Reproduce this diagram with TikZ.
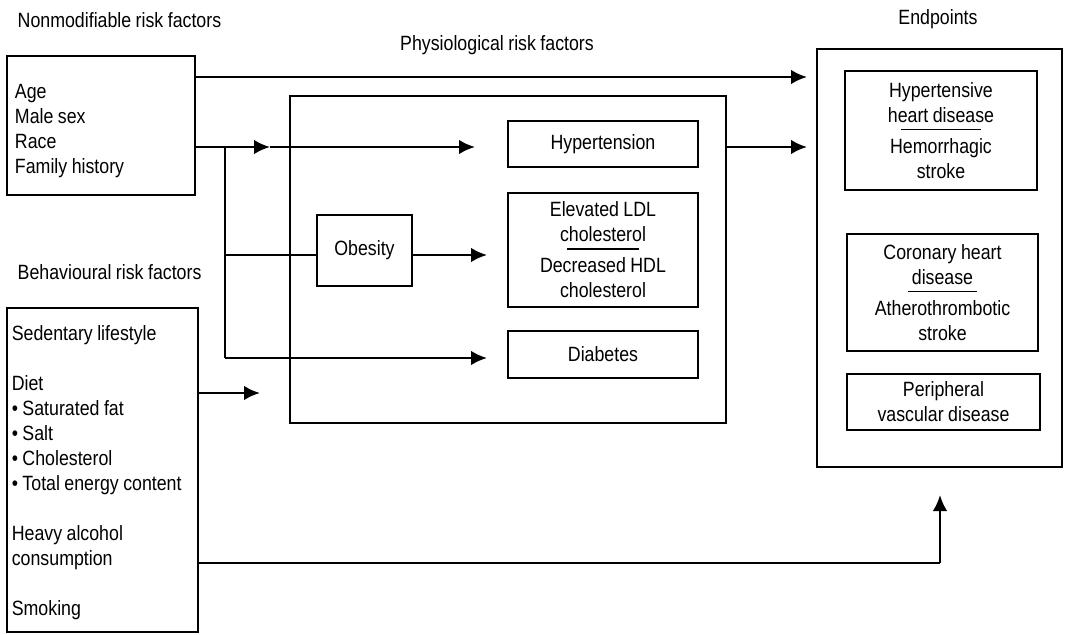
\documentclass[tikz,border=0pt]{standalone}
\usepackage{fontspec}
\setmainfont[FakeStretch=0.86,WordSpace=0.9]{Liberation Sans}
\usetikzlibrary{arrows.meta}
\newcommand{\sepline}[2]{\ooalign{#2\cr\hidewidth\rule[-6pt]{#1}{1.4pt}\hidewidth\cr}}
\hyphenpenalty=10000

\begin{document}
\begin{tikzpicture}[x=0.75pt,y=-0.75pt,
  font=\fontsize{15.5}{18.75}\selectfont,
  box/.style={draw,line width=1.9pt,align=center,inner sep=0pt},
  ln/.style={line width=1.9pt},
  arr/.style={line width=1.9pt,-{Latex[length=12pt,width=11pt]}}]
\useasboundingbox (0,0) rectangle (1065,635);

\node[anchor=base west] (tnm) at (13,28) {Nonmodifiable risk factors};
\node[anchor=base] (tph) at (497,51) {Physiological risk factors};
\node[anchor=base west] (tbh) at (13,279) {Behavioural risk factors};
\node[anchor=base] (tep) at (938,25) {Endpoints};

\node[box,align=flush left,text width=129pt,inner xsep=6pt,minimum height=104.25pt] (nm) at (101,125.5)
  {\rule{0pt}{19pt}Age\\Male sex\\Race\\Family history};
\node[box,align=flush left,text width=136pt,inner xsep=3.5pt,minimum height=243pt] (bh) at (102.5,470)
  {\rule{0pt}{15pt}Sedentary lifestyle\\[18.75pt]Diet\\• Saturated fat\\• Salt\\• Cholesterol\\• Total energy content\\[18.75pt]Heavy alcohol\\consumption\\[18.75pt]Smoking};

\node[box,minimum width=327pt,minimum height=245.25pt] (ph) at (508,259.5) {};
\node[box,minimum width=142.5pt,minimum height=34.5pt] (hyp) at (603,144) {Hypertension};
\node[box,minimum width=142.5pt,minimum height=85.5pt] (chol) at (603,250)
  {Elevated LDL\\\sepline{54pt}{cholesterol}\\[4.5pt]Decreased HDL\\cholesterol};
\node[box,minimum width=142.5pt,minimum height=35.25pt] (dia) at (603,354.5) {Diabetes};
\node[box,minimum width=71.25pt,minimum height=53.25pt] (ob) at (364.5,250.5) {Obesity};

\node[box,minimum width=183.75pt,minimum height=313.5pt] (ep) at (939.5,258) {};
\node[box,minimum width=144pt,minimum height=89.25pt] (ep1) at (941,130.5)
  {Hypertensive\\\sepline{60pt}{heart disease}\\[4.5pt]Hemorrhagic\\stroke};
\node[box,minimum width=143.25pt,minimum height=87.75pt] (ep2) at (942.5,292.5)
  {Coronary heart\\\sepline{52pt}{disease}\\[4.5pt]Atherothrombotic\\stroke};
\node[box,minimum width=144.75pt,minimum height=42pt] (ep3) at (943.5,402)
  {Peripheral\\vascular disease};

\coordinate (a0) at (807,77);
\coordinate (j1) at (225,147);
\coordinate (a1) at (270,147);
\coordinate (a2) at (475,147);
\coordinate (j2) at (225,255);
\coordinate (a3) at (487,255);
\coordinate (j3) at (225,358);
\coordinate (a4) at (487,358);
\coordinate (a5) at (807,147);
\coordinate (a6) at (260,393);
\coordinate (j4) at (940,563);
\coordinate (a7) at (940,495);

\draw[arr] (nm.east |- a0) -- (a0);
\draw[ln] (nm.east |- j1) -- (j1);
\draw[arr] (j1) -- (a1);
\draw[arr] (a1) -- (a2);
\draw[ln] (j1) -- (j3);
\draw[ln] (j2) -- (ob.west |- j2);
\draw[arr] (ob.east |- a3) -- (a3);
\draw[arr] (j3) -- (a4);
\draw[arr] (ph.east |- a5) -- (a5);
\draw[arr] (bh.east |- a6) -- (a6);
\draw[ln] (bh.east |- j4) -- (j4);
\draw[arr] (j4) -- (a7);
\end{tikzpicture}
\end{document}
